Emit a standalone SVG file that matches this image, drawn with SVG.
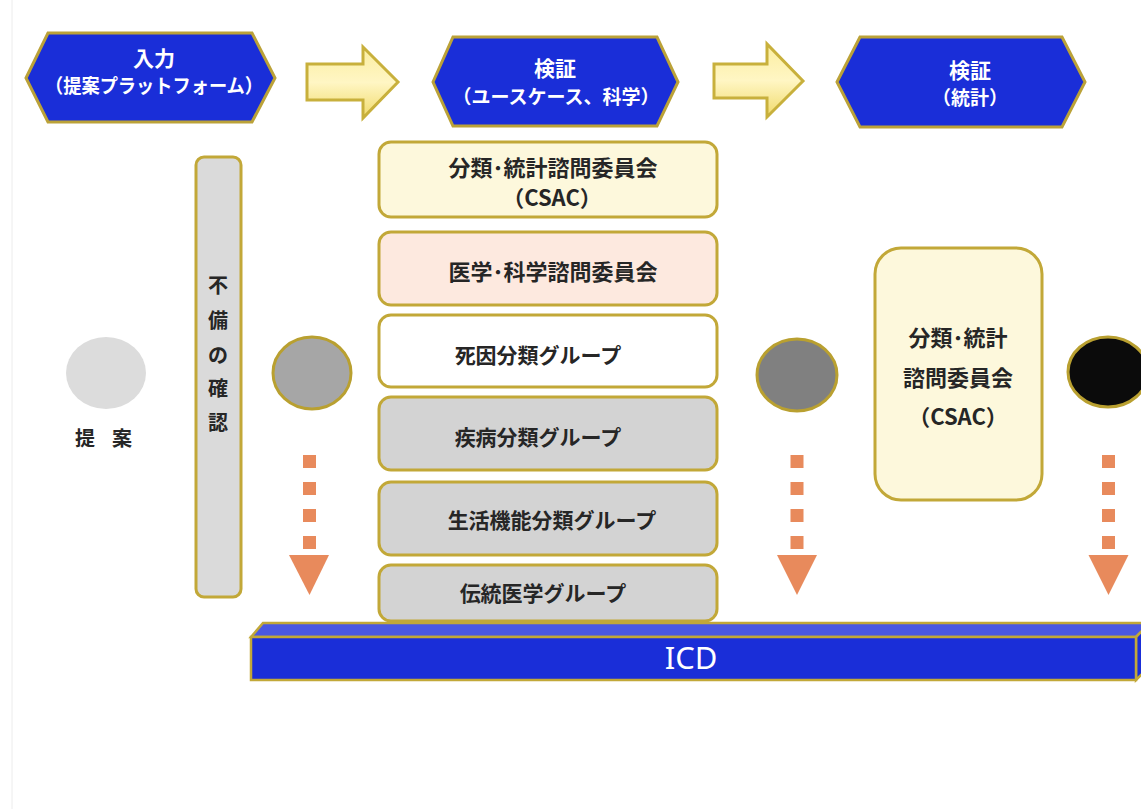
<svg xmlns="http://www.w3.org/2000/svg" width="1141" height="809" viewBox="0 0 1141 809">
<defs>
<style>
.hex{fill:#1a2ed8;stroke:#bba238;stroke-width:3;stroke-linejoin:miter}
.ht{font-family:"Noto Sans CJK JP","Noto Sans",sans-serif;font-weight:bold;fill:#ffffff;text-anchor:middle}
.box{stroke:#c2a838;stroke-width:3}
.bt{font-family:"Noto Sans CJK JP","Noto Sans",sans-serif;font-weight:bold;fill:#262626;text-anchor:middle;font-size:21px}
.ct{font-size:22px}
.blk{fill:url(#yg);stroke:#c8b03c;stroke-width:3;stroke-linejoin:miter}
.dash{fill:#e88a5c}
.circ{stroke:#b9a030;stroke-width:3}
</style>
<linearGradient id="yg" x1="0" y1="0" x2="0" y2="1">
<stop offset="0" stop-color="#fbeea0"/>
<stop offset="0.5" stop-color="#fff6c4"/>
<stop offset="1" stop-color="#f0da6a"/>
</linearGradient>
</defs>
<rect width="1141" height="809" fill="#ffffff"/>
<line x1="12" y1="0" x2="12" y2="809" stroke="#ececec" stroke-width="1"/>

<g id="input">
<polygon class="hex" points="26,78 48,33 252,33 275,78 252,122 48,122"/>
<text class="ht" x="154" y="66" font-size="21">入力</text>
<text class="ht" x="154" y="93" font-size="19.5" textLength="218" lengthAdjust="spacingAndGlyphs">（提案プラットフォーム）</text>
</g>
<g id="verify-science">
<polygon class="hex" points="433,82 453,37 657,37 678,82 657,126 453,126"/>
<text class="ht" x="555" y="76" font-size="21">検証</text>
<text class="ht" x="556" y="104" font-size="19">（ユースケース、科学）</text>
</g>
<g id="verify-stats">
<polygon class="hex" points="837,82 860,37 1062,37 1085,82 1062,127 860,127"/>
<text class="ht" x="970" y="78" font-size="21">検証</text>
<text class="ht" x="970" y="105" font-size="19">（統計）</text>
</g>

<g id="proposal">
<ellipse cx="106" cy="373" rx="40" ry="36" fill="#dcdcdc"/>
<text class="bt" x="75" y="446" style="text-anchor:start;font-size:20px" letter-spacing="17">提案</text>
</g>
<g id="check">
<rect class="box" x="196" y="157" width="45" height="440" rx="8" fill="#dadada"/>
<text class="bt" style="font-size:20px"><tspan x="218" y="293">不</tspan><tspan x="218" y="328">備</tspan><tspan x="218" y="363">の</tspan><tspan x="218" y="396">確</tspan><tspan x="218" y="430">認</tspan></text>
</g>
<g id="stage1"><ellipse class="circ" cx="312" cy="373" rx="39" ry="36" fill="#a6a6a6"/></g>
<g id="stage2"><ellipse class="circ" cx="797" cy="375" rx="40" ry="36" fill="#808080"/></g>
<g id="stage3"><ellipse class="circ" cx="1108" cy="372" rx="40" ry="35" fill="#0b0b0b"/></g>

<g id="csac-box">
<rect class="box" x="379" y="142" width="338" height="75" rx="12" fill="#fdf8dc"/>
<text class="bt ct" x="553" y="176">分類･統計諮問委員会</text>
<text class="bt ct" x="552" y="206">（CSAC）</text>
</g>
<g id="msac-box">
<rect class="box" x="379" y="232" width="338" height="73" rx="12" fill="#fde9df"/>
<text class="bt ct" x="553" y="280">医学･科学諮問委員会</text>
</g>
<g id="mortality">
<rect class="box" x="379" y="315" width="338" height="72" rx="12" fill="#ffffff"/>
<text class="bt" x="538" y="363">死因分類グループ</text>
</g>
<g id="morbidity">
<rect class="box" x="379" y="397" width="338" height="73" rx="12" fill="#d3d3d3"/>
<text class="bt" x="538" y="445">疾病分類グループ</text>
</g>
<g id="functioning">
<rect class="box" x="379" y="482" width="338" height="73" rx="12" fill="#d3d3d3"/>
<text class="bt" x="552" y="528">生活機能分類グループ</text>
</g>
<g id="traditional">
<rect class="box" x="379" y="565" width="338" height="56" rx="12" fill="#d3d3d3"/>
<text class="bt" x="543" y="601">伝統医学グループ</text>
</g>

<g id="csac-stats">
<rect class="box" x="875" y="248" width="167" height="252" rx="26" fill="#fdf8dc"/>
<text class="bt ct" x="958" y="346">分類･統計</text>
<text class="bt ct" x="958" y="386">諮問委員会</text>
<text class="bt ct" x="958" y="425">（CSAC）</text>
</g>

<g id="icd">
<polygon points="251,637 263,623 1150,623 1136,637" fill="#4a58e2" stroke="#c2a838" stroke-width="2.5" stroke-linejoin="miter"/>
<polygon points="1136,637 1150,623 1150,666 1136,680" fill="#1a2ed8" stroke="#c2a838" stroke-width="2.5"/>
<rect x="251" y="637" width="885" height="43" fill="#1a2ed8" stroke="#c2a838" stroke-width="2.5"/>
<text x="691" y="669" font-family="Noto Sans, sans-serif" font-size="31" fill="#ffffff" text-anchor="middle">ICD</text>
</g>

<g id="connectors">
<polygon class="blk" points="307,64 363,64 363,47 398,82 363,118 363,100 307,100"/>
<polygon class="blk" points="714,64 767,64 767,44 803,81 767,117 767,98 714,98"/>
<g class="dash">
<rect x="303" y="455" width="13" height="13"/><rect x="303" y="482" width="13" height="13"/><rect x="303" y="509" width="13" height="13"/><rect x="303" y="536" width="13" height="13"/>
<polygon points="289,555 329,555 309.5,595"/>
</g>
<g class="dash">
<rect x="790.5" y="455" width="13" height="13"/><rect x="790.5" y="482" width="13" height="13"/><rect x="790.5" y="509" width="13" height="13"/><rect x="790.5" y="536" width="13" height="13"/>
<polygon points="777,555 817,555 797,595"/>
</g>
<g class="dash">
<rect x="1102" y="455" width="13" height="13"/><rect x="1102" y="482" width="13" height="13"/><rect x="1102" y="509" width="13" height="13"/><rect x="1102" y="536" width="13" height="13"/>
<polygon points="1088.5,555 1128.5,555 1108.5,595"/>
</g>
</g>
</svg>
